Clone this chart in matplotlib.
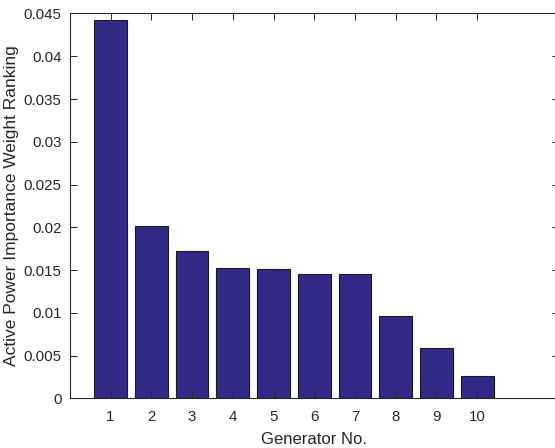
import matplotlib
matplotlib.use("Agg")
import matplotlib.pyplot as plt

generators = [1, 2, 3, 4, 5, 6, 7, 8, 9, 10]
weights = [0.0442, 0.0202, 0.01725, 0.0152, 0.0151, 0.0146, 0.0146, 0.00963, 0.00593, 0.00265]
yticks = [0, 0.005, 0.01, 0.015, 0.02, 0.025, 0.03, 0.035, 0.04, 0.045]
ytick_labels = ["0", "0.005", "0.01", "0.015", "0.02", "0.025", "0.03", "0.035", "0.04", "0.045"]

plt.rcParams['font.family'] = ['Liberation Sans', 'DejaVu Sans']

fig = plt.figure(figsize=(5.55, 4.48), dpi=100)
ax = fig.add_axes([69.8/555, 49.6/448, (558.7-69.8)/555, (398.4-13.5)/448])

ax.bar(generators, weights, width=0.8, color='#312b87', edgecolor='#1a1a1a', linewidth=0.8)

ax.set_xlim(0, 12)
ax.set_ylim(0, 0.045)
ax.set_xticks(generators)
ax.set_xticklabels([str(g) for g in generators])
ax.set_yticks(yticks)
ax.set_yticklabels(ytick_labels)

for s in ax.spines.values():
    s.set_color('#262626')
    s.set_linewidth(0.8)
ax.tick_params(direction='in', top=True, right=True, length=5, width=0.7,
               colors='#262626', labelsize=10.8)
ax.tick_params(axis='x', pad=8)
ax.tick_params(axis='y', pad=6)

ax.set_xlabel('Generator No.', fontsize=12, color='#262626', labelpad=6)
ax.set_ylabel('Active Power Importance Weight Ranking', fontsize=12.5, color='#262626', labelpad=3)

fig.savefig('out.png', dpi=100)
